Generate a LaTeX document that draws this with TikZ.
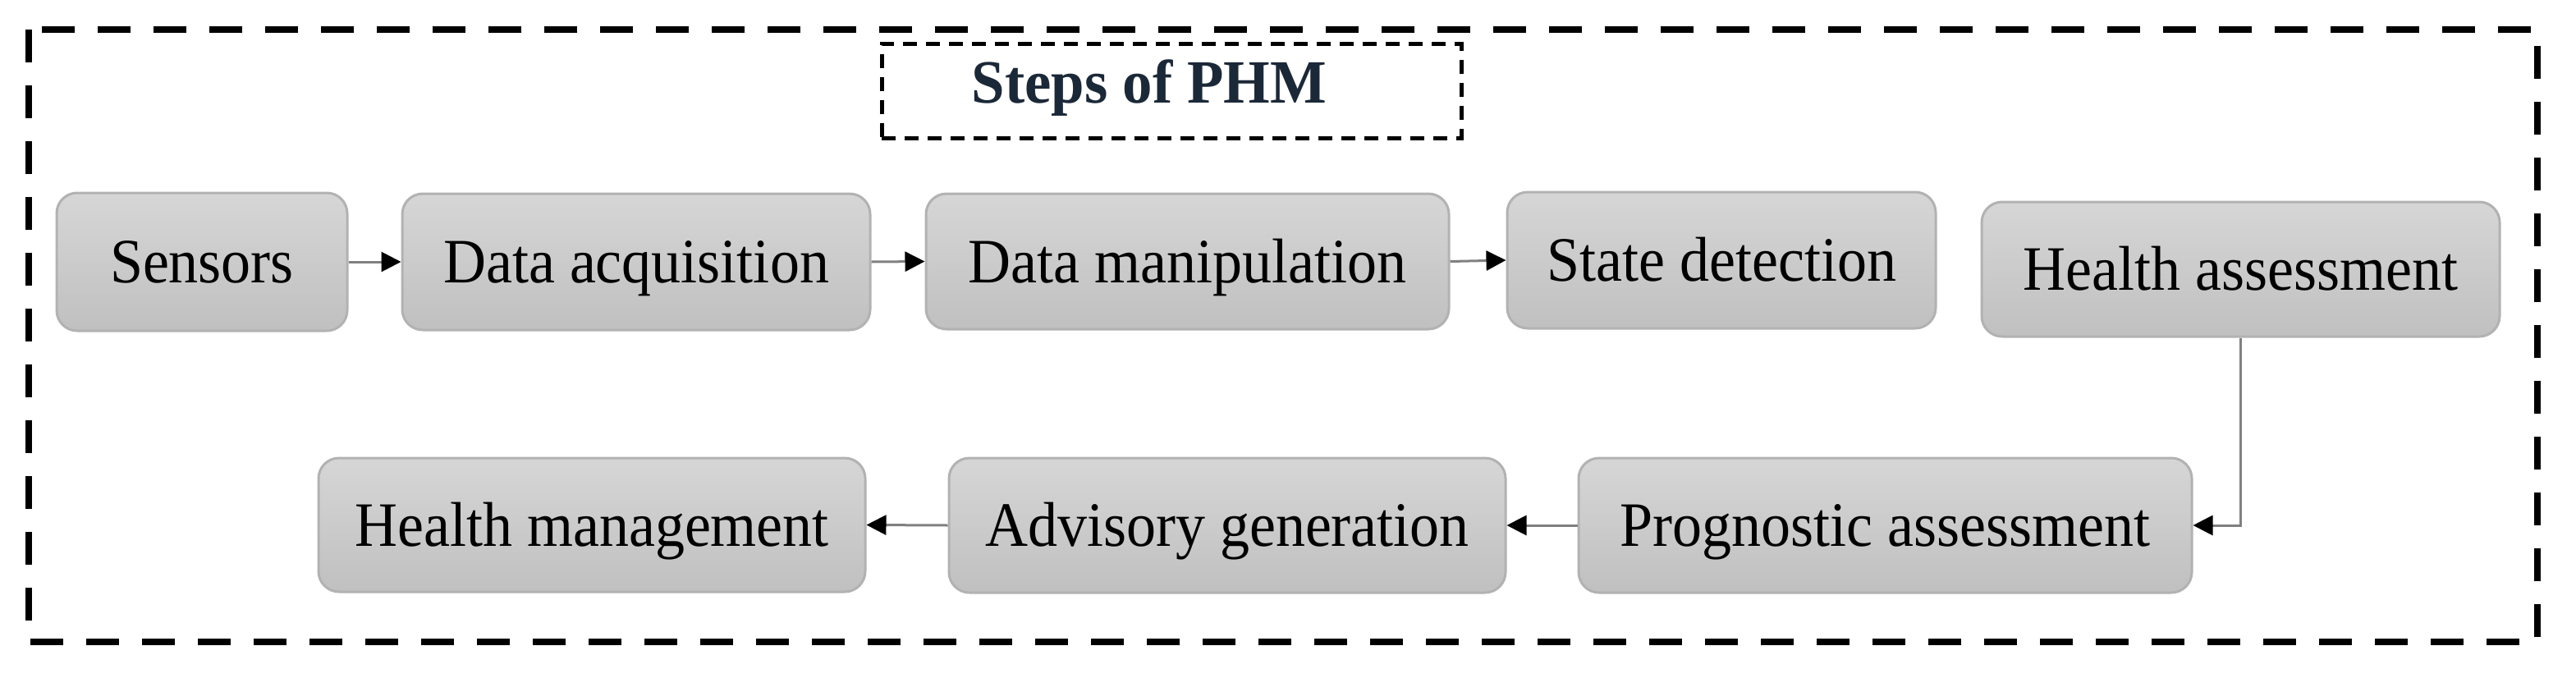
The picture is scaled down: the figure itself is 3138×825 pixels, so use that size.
\documentclass[tikz,border=0pt]{standalone}
\usepackage{fontspec}
\setmainfont{Liberation Serif}
\newfontfamily\boxfont{Liberation Serif}[FakeStretch=0.935]
\newfontfamily\titlefont{Liberation Serif}[FakeStretch=0.97]
\usetikzlibrary{arrows.meta}
\definecolor{boxtop}{RGB}{214,214,214}
\definecolor{boxbot}{RGB}{192,192,192}
\definecolor{boxline}{RGB}{178,178,178}
\definecolor{conn}{RGB}{128,128,128}
\definecolor{titlecol}{RGB}{27,40,56}
\tikzset{
  stepbox/.style={rectangle, rounded corners=25pt, draw=boxline, line width=3pt,
    top color=boxtop, bottom color=boxbot, inner sep=0pt,
    font=\boxfont\fontsize{77pt}{90pt}\selectfont, text height=51pt, text depth=0pt},
  conn/.style={draw=conn, line width=3pt, -{Triangle[length=24pt,width=24pt,color=black]}},
  outerbox/.style={draw=black, line width=8pt, dash pattern=on 40pt off 28pt},
  titlebox/.style={draw=black, line width=5pt, dash pattern=on 17pt off 11pt, inner sep=0pt},
  titletext/.style={text=titlecol, inner sep=0pt, font=\titlefont\bfseries\fontsize{75pt}{88pt}\selectfont, text height=50pt, text depth=0pt}
}
\begin{document}
\begin{tikzpicture}[x=1pt,y=-1pt]
\useasboundingbox (0,0) rectangle (3138,825);
\fill[white] (0,0) rectangle (3138,825);
\draw[outerbox] (35,36) rectangle (3091,782);
\node[titlebox, minimum width=706pt, minimum height=115pt] (tbox) at (1427,110.5) {};
\node[titletext] (title) at (1400,100) {Steps of PHM};

\node[stepbox, minimum width=354pt, minimum height=168pt] (sens) at (246,319) {Sensors};
\node[stepbox, minimum width=570pt, minimum height=166pt] (dacq) at (775,319) {Data acquisition};
\node[stepbox, minimum width=637pt, minimum height=165pt] (dman) at (1446.5,318.5) {Data manipulation};
\node[stepbox, minimum width=522pt, minimum height=166pt] (sdet) at (2097,317) {State detection};
\node[stepbox, minimum width=631pt, minimum height=164pt] (hass) at (2729.5,328) {Health assessment};
\node[stepbox, minimum width=666pt, minimum height=163pt] (hman) at (721,639.5) {Health management};
\node[stepbox, minimum width=678pt, minimum height=164pt] (advg) at (1495,640) {Advisory generation};
\node[stepbox, minimum width=747pt, minimum height=164pt] (prog) at (2296.5,640) {Prognostic assessment};

\draw[conn] (sens.east) -- (dacq.west);
\draw[conn] (dacq.east) -- (dman.west);
\draw[conn] (dman.east) -- (sdet.west);
\draw[conn] (hass.south) |- (prog.east);
\draw[conn] (prog.west) -- (advg.east);
\draw[conn] (advg.west) -- (hman.east);
\end{tikzpicture}
\end{document}
